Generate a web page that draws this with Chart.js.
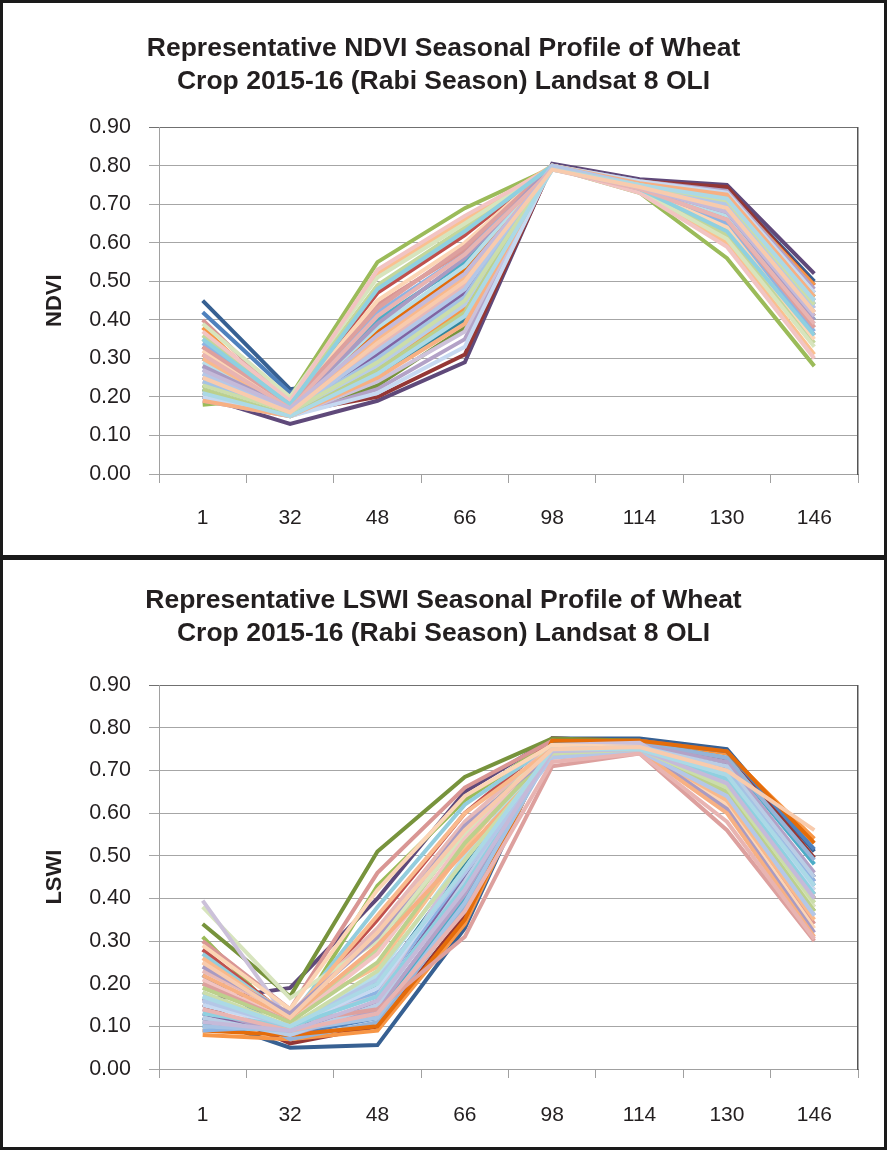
<!DOCTYPE html>
<html>
<head>
<meta charset="utf-8">
<script src="https://cdn.jsdelivr.net/npm/chart.js@4.4.0/dist/chart.umd.min.js"></script>
<style>
  html, body { margin: 0; padding: 0; background: #fff; }
  #page { position: relative; width: 887px; height: 1150px; overflow: hidden; }
  .panel { position: absolute; left: 0; width: 887px; }
  #topPanel { top: 0; height: 557px; }
  #bottomPanel { top: 557px; height: 593px; }
  .frame { position: absolute; box-sizing: border-box; border: 3px solid #1a1a1a; pointer-events: none; }
</style>
</head>
<body>
<div id="page">
  <div class="panel" id="topPanel"><canvas id="ndviChart"></canvas></div>
  <div class="panel" id="bottomPanel"><canvas id="lswiChart"></canvas></div>
  <div class="frame" style="left:0;top:0;width:887px;height:560px"></div>
  <div class="frame" style="left:0;top:555px;width:887px;height:595px"></div>
</div>
<script>
// Day of season for each Landsat 8 scene
const days = ['1', '32', '48', '66', '98', '114', '130', '146'];

// NDVI profiles, one row per wheat sample
const ndviProfiles = [
  [0.20, 0.13, 0.19, 0.29, 0.805, 0.765, 0.75, 0.52],
  [0.45, 0.22, 0.25, 0.41, 0.80, 0.76, 0.74, 0.50],
  [0.21, 0.16, 0.20, 0.31, 0.80, 0.76, 0.745, 0.49],
  [0.18, 0.20, 0.55, 0.69, 0.795, 0.73, 0.56, 0.28],
  [0.38, 0.17, 0.27, 0.43, 0.80, 0.755, 0.73, 0.49],
  [0.42, 0.21, 0.36, 0.52, 0.80, 0.75, 0.70, 0.44],
  [0.33, 0.18, 0.47, 0.62, 0.80, 0.74, 0.64, 0.36],
  [0.25, 0.16, 0.31, 0.47, 0.80, 0.75, 0.71, 0.45],
  [0.30, 0.17, 0.40, 0.55, 0.80, 0.745, 0.67, 0.40],
  [0.23, 0.15, 0.23, 0.38, 0.80, 0.755, 0.72, 0.46],
  [0.35, 0.19, 0.52, 0.66, 0.80, 0.735, 0.60, 0.31],
  [0.27, 0.16, 0.34, 0.50, 0.80, 0.75, 0.69, 0.42],
  [0.40, 0.18, 0.44, 0.58, 0.80, 0.74, 0.66, 0.38],
  [0.22, 0.15, 0.26, 0.40, 0.80, 0.755, 0.73, 0.47],
  [0.31, 0.17, 0.37, 0.53, 0.795, 0.745, 0.68, 0.41],
  [0.36, 0.19, 0.49, 0.64, 0.80, 0.74, 0.62, 0.34],
  [0.19, 0.15, 0.22, 0.35, 0.80, 0.76, 0.735, 0.48],
  [0.28, 0.16, 0.29, 0.45, 0.80, 0.75, 0.71, 0.44],
  [0.34, 0.18, 0.42, 0.57, 0.80, 0.74, 0.65, 0.37],
  [0.24, 0.16, 0.33, 0.49, 0.80, 0.75, 0.70, 0.43],
  [0.39, 0.20, 0.51, 0.65, 0.795, 0.735, 0.61, 0.33],
  [0.21, 0.15, 0.24, 0.37, 0.80, 0.755, 0.72, 0.47],
  [0.29, 0.17, 0.38, 0.54, 0.80, 0.745, 0.67, 0.39],
  [0.32, 0.18, 0.45, 0.60, 0.80, 0.74, 0.64, 0.35],
  [0.26, 0.16, 0.28, 0.44, 0.80, 0.75, 0.715, 0.45],
  [0.37, 0.19, 0.53, 0.67, 0.795, 0.73, 0.59, 0.30],
  [0.20, 0.15, 0.21, 0.33, 0.80, 0.76, 0.73, 0.47],
  [0.30, 0.17, 0.35, 0.51, 0.80, 0.75, 0.69, 0.42],
  [0.24, 0.16, 0.30, 0.46, 0.80, 0.75, 0.70, 0.44],
  [0.33, 0.18, 0.43, 0.59, 0.80, 0.74, 0.66, 0.38],
  [0.22, 0.15, 0.27, 0.42, 0.80, 0.75, 0.72, 0.46],
  [0.28, 0.17, 0.39, 0.56, 0.80, 0.745, 0.68, 0.40],
  [0.35, 0.18, 0.48, 0.63, 0.80, 0.74, 0.63, 0.36],
  [0.19, 0.15, 0.25, 0.39, 0.80, 0.755, 0.725, 0.46],
  [0.26, 0.16, 0.32, 0.48, 0.80, 0.75, 0.70, 0.43],
  [0.31, 0.17, 0.41, 0.57, 0.79, 0.74, 0.66, 0.39],
  [0.23, 0.16, 0.29, 0.45, 0.79, 0.75, 0.71, 0.44],
  [0.27, 0.17, 0.36, 0.52, 0.79, 0.745, 0.68, 0.41],
  [0.21, 0.15, 0.26, 0.41, 0.79, 0.75, 0.715, 0.45],
  [0.25, 0.16, 0.34, 0.50, 0.79, 0.745, 0.69, 0.42]
];

// LSWI profiles, one row per wheat sample
const lswiProfiles = [
  [0.16, 0.19, 0.40, 0.65, 0.775, 0.77, 0.72, 0.45],
  [0.12, 0.05, 0.056, 0.33, 0.775, 0.775, 0.75, 0.51],
  [0.15, 0.06, 0.10, 0.36, 0.775, 0.77, 0.745, 0.495],
  [0.31, 0.10, 0.43, 0.63, 0.77, 0.765, 0.66, 0.37],
  [0.08, 0.07, 0.09, 0.34, 0.77, 0.77, 0.74, 0.54],
  [0.22, 0.08, 0.12, 0.42, 0.77, 0.77, 0.745, 0.515],
  [0.28, 0.12, 0.35, 0.60, 0.77, 0.765, 0.68, 0.41],
  [0.13, 0.08, 0.16, 0.45, 0.765, 0.765, 0.71, 0.44],
  [0.10, 0.09, 0.13, 0.40, 0.77, 0.765, 0.73, 0.48],
  [0.34, 0.17, 0.51, 0.685, 0.775, 0.77, 0.70, 0.40],
  [0.25, 0.13, 0.24, 0.52, 0.765, 0.76, 0.69, 0.42],
  [0.18, 0.07, 0.11, 0.38, 0.76, 0.765, 0.73, 0.49],
  [0.30, 0.14, 0.46, 0.66, 0.77, 0.76, 0.63, 0.34],
  [0.11, 0.09, 0.20, 0.48, 0.765, 0.76, 0.70, 0.43],
  [0.09, 0.08, 0.10, 0.35, 0.77, 0.77, 0.745, 0.53],
  [0.20, 0.11, 0.28, 0.56, 0.76, 0.76, 0.67, 0.39],
  [0.14, 0.08, 0.14, 0.41, 0.76, 0.76, 0.72, 0.46],
  [0.27, 0.12, 0.38, 0.62, 0.76, 0.755, 0.65, 0.36],
  [0.09, 0.10, 0.18, 0.46, 0.755, 0.76, 0.70, 0.44],
  [0.23, 0.13, 0.33, 0.58, 0.76, 0.755, 0.66, 0.38],
  [0.38, 0.166, 0.30, 0.55, 0.76, 0.76, 0.66, 0.38],
  [0.395, 0.11, 0.17, 0.50, 0.76, 0.765, 0.64, 0.36],
  [0.17, 0.09, 0.22, 0.50, 0.755, 0.755, 0.69, 0.41],
  [0.29, 0.14, 0.42, 0.64, 0.76, 0.755, 0.62, 0.33],
  [0.12, 0.08, 0.15, 0.44, 0.75, 0.755, 0.71, 0.45],
  [0.21, 0.11, 0.27, 0.54, 0.75, 0.75, 0.67, 0.40],
  [0.15, 0.10, 0.19, 0.47, 0.75, 0.75, 0.68, 0.42],
  [0.26, 0.12, 0.36, 0.60, 0.75, 0.75, 0.63, 0.35],
  [0.10, 0.09, 0.12, 0.39, 0.745, 0.75, 0.70, 0.43],
  [0.20, 0.11, 0.14, 0.31, 0.71, 0.74, 0.56, 0.30],
  [0.19, 0.11, 0.25, 0.53, 0.745, 0.75, 0.65, 0.37],
  [0.24, 0.13, 0.31, 0.57, 0.74, 0.75, 0.61, 0.32],
  [0.13, 0.10, 0.17, 0.43, 0.74, 0.745, 0.68, 0.41],
  [0.22, 0.12, 0.29, 0.51, 0.73, 0.745, 0.60, 0.31],
  [0.16, 0.10, 0.21, 0.46, 0.73, 0.745, 0.64, 0.36],
  [0.14, 0.09, 0.13, 0.37, 0.72, 0.74, 0.58, 0.305],
  [0.18, 0.10, 0.23, 0.49, 0.74, 0.75, 0.66, 0.39],
  [0.11, 0.09, 0.16, 0.42, 0.745, 0.75, 0.67, 0.40],
  [0.17, 0.10, 0.20, 0.47, 0.75, 0.75, 0.69, 0.43],
  [0.25, 0.12, 0.32, 0.56, 0.75, 0.755, 0.70, 0.56]
];

const yMin = 0;
const yMax = 0.9;
const yStep = 0.1;

// Excel 2007 style series colours, darker ones first
const palette = [
  '#5F497A', '#376092', '#953735', '#9BBB59', '#F79646', '#4F81BD', '#C0504D', '#8064A2',
  '#4BACC6', '#77933C', '#FAC090', '#95B3D7', '#D99694', '#31859C', '#E46C0A', '#C3D69B',
  '#B3A2C7', '#93CDDD', '#8EB4E3', '#E6B9B8', '#D7E4BD', '#CCC1DA', '#B7DEE8', '#FCD5B5',
  '#B9CDE5', '#F2C4C2', '#C6D9F1', '#F9B98C', '#A5C3E4', '#DDA09E', '#BCD08C', '#A99BC2',
  '#8FD0E0', '#F7B083', '#B4C7E7', '#E8B4B2', '#CBDDAA', '#C5BAD9', '#ABD9E6', '#F8CBAD'
];

const FONT = '"Liberation Sans", Arial, Helvetica, sans-serif';
const TEXT = '#231f20';

function buildChart(canvasId, rows, axisName, titleLines, titlePad, xAxisHeight, xLabelPad) {
  // Chart.js paints dataset 0 last, so reverse to keep the pale series on top like Excel
  const datasets = rows.map((row, i) => ({
    label: axisName + ' ' + (i + 1),
    data: row,
    borderColor: palette[i % palette.length],
    backgroundColor: palette[i % palette.length],
    borderWidth: 4,
    pointRadius: 0,
    tension: 0,
    fill: false
  })).reverse();

  return new Chart(document.getElementById(canvasId), {
    type: 'line',
    data: { labels: days, datasets: datasets },
    options: {
      responsive: true,
      maintainAspectRatio: false,
      animation: false,
      devicePixelRatio: 1,
      layout: { padding: 0 },
      plugins: {
        legend: { display: false },
        tooltip: { enabled: false },
        title: {
          display: true,
          text: titleLines,
          color: TEXT,
          font: { family: FONT, size: 26.5, weight: 'bold', lineHeight: 1.25 },
          padding: titlePad
        }
      },
      scales: {
        x: {
          offset: true,
          grid: { offset: true, drawOnChartArea: false, drawTicks: true, tickLength: 9, color: '#a0a0a0' },
          border: { color: '#a0a0a0' },
          ticks: { color: TEXT, font: { family: FONT, size: 21 }, padding: xLabelPad, maxRotation: 0 },
          afterFit: s => { s.height = xAxisHeight; }
        },
        y: {
          min: yMin,
          max: yMax,
          ticks: {
            stepSize: yStep,
            color: TEXT,
            padding: 18,
            font: { family: FONT, size: 21.5 },
            callback: v => Number(v).toFixed(2)
          },
          grid: {
            tickLength: 10,
            color: ctx => (ctx.tick && Math.abs(ctx.tick.value - yMax) < 1e-6) ? '#707070' : '#a6a6a6'
          },
          border: { color: '#a0a0a0' },
          title: {
            display: true,
            text: axisName,
            color: TEXT,
            font: { family: FONT, size: 22, weight: 'bold' },
            padding: { top: 42, bottom: 0 }
          },
          afterFit: s => { s.width = 159; }
        },
        yRight: {
          position: 'right',
          min: yMin,
          max: yMax,
          ticks: { display: false },
          grid: { drawOnChartArea: false, drawTicks: false },
          border: { color: '#555555', width: 1.5 },
          afterFit: s => { s.width = 29; }
        }
      }
    }
  });
}

buildChart('ndviChart', ndviProfiles, 'NDVI',
  ['Representative NDVI Seasonal Profile of Wheat', 'Crop 2015-16 (Rabi Season) Landsat 8 OLI'],
  { top: 32, bottom: 29 }, 83, 23);

buildChart('lswiChart', lswiProfiles, 'LSWI',
  ['Representative LSWI Seasonal Profile of Wheat', 'Crop 2015-16 (Rabi Season) Landsat 8 OLI'],
  { top: 27, bottom: 35 }, 81, 25);
</script>
</body>
</html>
